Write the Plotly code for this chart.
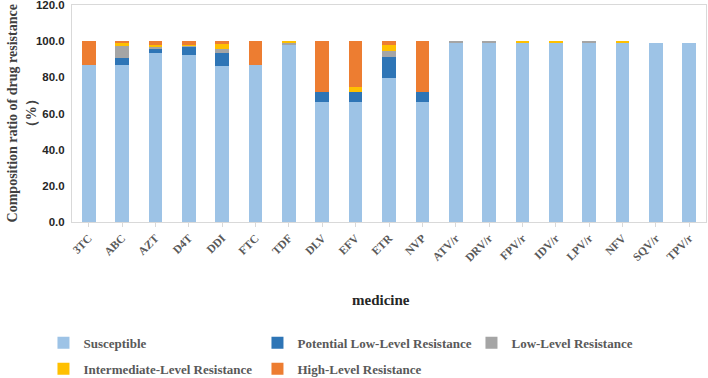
import plotly.graph_objects as go

categories = ["3TC", "ABC", "AZT", "D4T", "DDI", "FTC", "TDF", "DLV", "EFV", "ETR",
              "NVP", "ATV/r", "DRV/r", "FPV/r", "IDV/r", "LPV/r", "NFV", "SQV/r", "TPV/r"]

susceptible = [86.7, 86.7, 93.3, 92.4, 86.5, 86.7, 98.3, 66.2, 66.2, 79.7,
               66.2, 99.2, 99.2, 99.0, 99.0, 99.2, 99.0, 99.0, 99.0]
potential_low = [0, 3.9, 2.6, 4.6, 6.7, 0, 0, 5.9, 5.9, 11.5,
                 5.9, 0, 0, 0, 0, 0, 0, 0, 0]
low_level = [0, 6.6, 0.8, 0.4, 2.6, 0, 0.9, 0, 0, 3.1,
             0, 0.8, 0.8, 0, 0, 0.8, 0, 0, 0]
intermediate = [0, 2.2, 1.3, 0.6, 3.1, 0, 0.8, 0, 2.8, 3.7,
                0, 0, 0, 1.0, 1.0, 0, 1.0, 0, 0]
high_level = [13.3, 0.6, 2.0, 2.0, 1.1, 13.3, 0, 27.9, 25.1, 2.0,
              27.9, 0, 0, 0, 0, 0, 0, 0, 0]

y_ticks = [0, 20, 40, 60, 80, 100, 120]

series = [
    ("Susceptible", susceptible, "#9DC3E6", "legend"),
    ("Potential Low-Level Resistance", potential_low, "#2E75B6", "legend"),
    ("Low-Level Resistance", low_level, "#A5A5A5", "legend"),
    ("Intermediate-Level Resistance", intermediate, "#FFC000", "legend2"),
    ("High-Level Resistance", high_level, "#ED7D31", "legend2"),
]

fig = go.Figure()
for name, vals, color, lg in series:
    fig.add_trace(go.Bar(x=categories, y=vals, name=name, legend=lg,
                         marker=dict(color=color, line=dict(width=0))))

serif = "Liberation Serif"
legend_font = dict(family=serif, size=13, color="#595959", weight=700)

fig.update_layout(
    width=708, height=378,
    barmode="stack", bargap=0.59,
    margin=dict(l=72, r=2, t=5, b=156, autoexpand=False),
    paper_bgcolor="white", plot_bgcolor="white",
    showlegend=True,
    legend=dict(orientation="h", x=-0.045, xanchor="left", y=-0.557, yanchor="middle",
                entrywidth=169, entrywidthmode="pixels", font=legend_font,
                traceorder="normal", bgcolor="rgba(0,0,0,0)"),
    legend2=dict(orientation="h", x=-0.045, xanchor="left", y=-0.677, yanchor="middle",
                 entrywidth=169, entrywidthmode="pixels", font=legend_font,
                 traceorder="normal", bgcolor="rgba(0,0,0,0)"),
    xaxis=dict(showline=True, linecolor="#D9D9D9", linewidth=1, mirror=True,
               ticks="outside", ticklen=4, tickcolor="#D9D9D9", tickangle=-45,
               tickfont=dict(family=serif, size=11.5, color="#595959", weight=700),
               showgrid=False, automargin=False),
    yaxis=dict(range=[0, 120.001], tickvals=y_ticks, tickformat=".1f",
               showline=True, linecolor="#D9D9D9", linewidth=1, mirror=True,
               showgrid=False, ticks="", ticklabelstandoff=4, ticklabeloverflow="allow",
               tickfont=dict(family="Liberation Sans", size=11.5, color="#262626", weight=700),
               automargin=False),
    annotations=[
        dict(text="Composition ratio of drug resistance<br>（%）", xref="paper", yref="paper",
             x=-0.079, y=0.5, xanchor="center", yanchor="middle", textangle=-90,
             showarrow=False, font=dict(family=serif, size=14, color="#404040", weight=700)),
        dict(text="medicine", xref="paper", yref="paper",
             x=(381 - 72) / 634, y=(222 - 300) / 217, xanchor="center", yanchor="middle",
             showarrow=False, font=dict(family=serif, size=15, color="#262626", weight=700)),
    ],
)

fig.write_html("out.html")
